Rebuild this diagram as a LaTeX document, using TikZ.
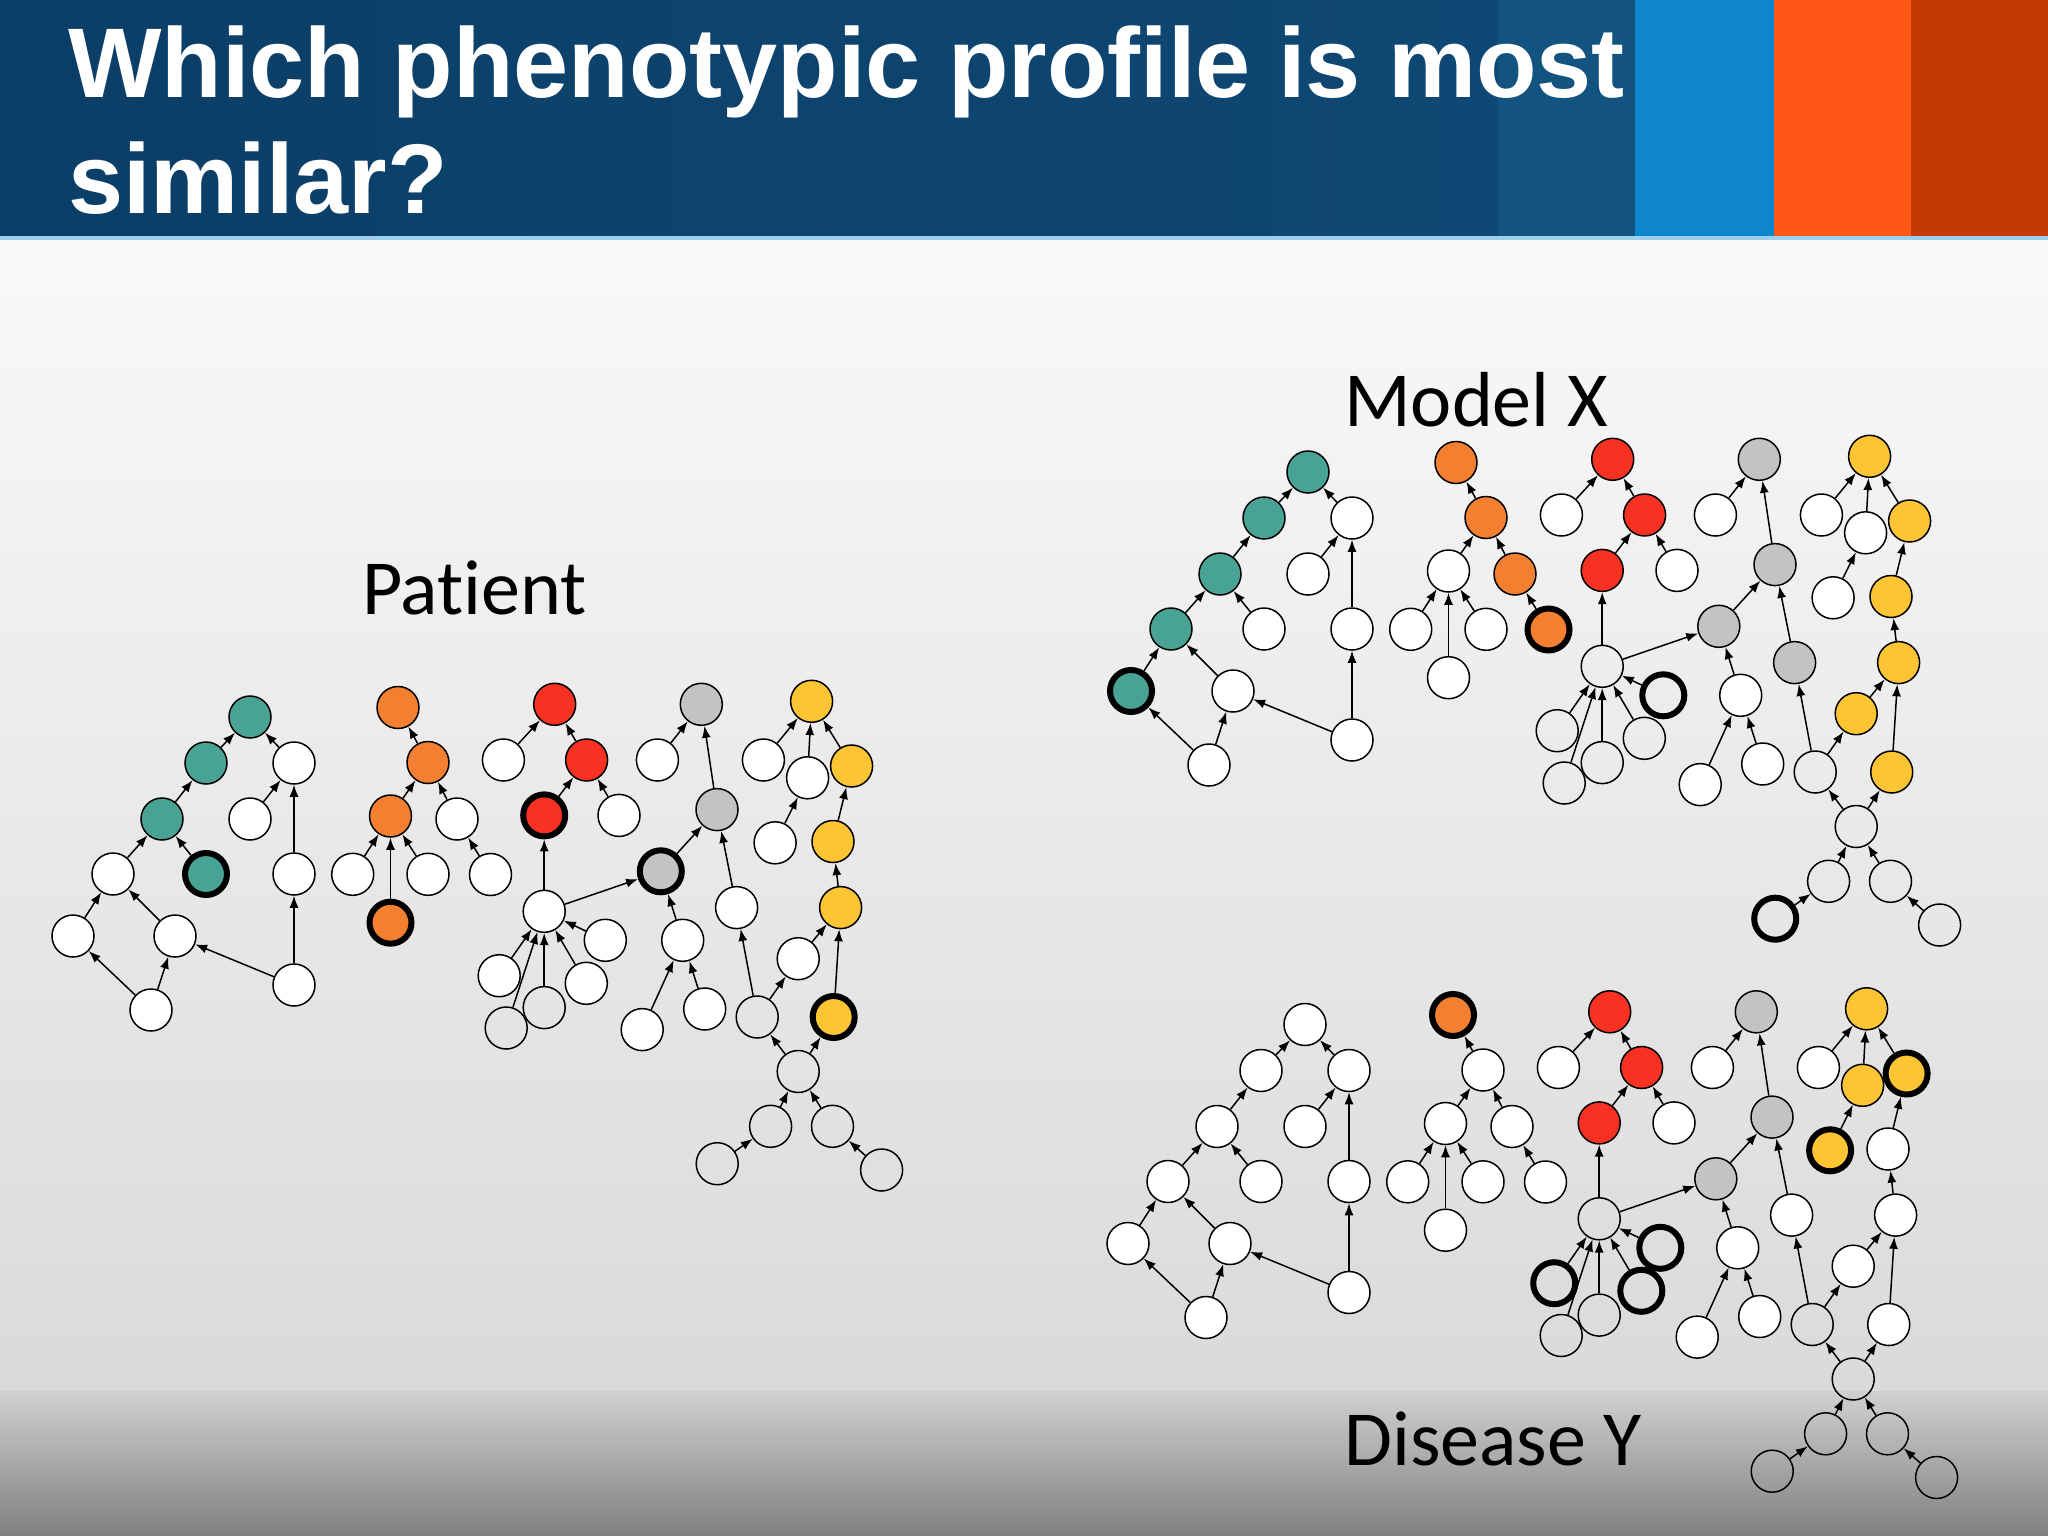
\documentclass[tikz,border=0pt]{standalone}
\usepackage{fontspec}
\setmainfont{Liberation Sans}
\newfontfamily\titlefont{Liberation Sans}
\newfontfamily\labfont{Carlito}[Ligatures=NoCommon]
\usetikzlibrary{arrows.meta}
\definecolor{cTeal}{HTML}{49A394}
\definecolor{cOra}{HTML}{F28030}
\definecolor{cRed}{HTML}{F83222}
\definecolor{cGra}{HTML}{C3C3C5}
\definecolor{cYel}{HTML}{FDC434}
\definecolor{cNavyL}{HTML}{0B3E66}
\definecolor{cNavyR}{HTML}{0F4874}
\definecolor{cS1}{HTML}{12537F}
\definecolor{cS2}{HTML}{0E86CD}
\definecolor{cS3}{HTML}{FF5715}
\definecolor{cS4}{HTML}{C33B02}
\definecolor{cLine}{HTML}{9CCFEE}
\definecolor{cBg1}{HTML}{F9F9F9}
\definecolor{cBg2}{HTML}{DADADA}
\definecolor{cBg3}{HTML}{D0D0D0}
\definecolor{cBg4}{HTML}{808080}

\makeatletter
\newcommand\setsty[2]{\expandafter\def\csname sty@\gp @#1\endcsname{#2}}
\tikzset{s/.code={\@ifundefined{sty@\gp @#1}{\pgfkeysalso{wn}}{\edef\tmp@s{\noexpand\pgfkeysalso{\csname sty@\gp @#1\endcsname}}\tmp@s}}}
\makeatother

\tikzset{
  base/.style={circle, minimum size=42pt, inner sep=0pt, draw=black, line width=1.5pt},
  wn/.style={fill=white},
  tn/.style={},
  boldline/.style={line width=6pt},
  rbold/.style={boldline},
  ntea/.style={fill=cTeal},
  nteab/.style={fill=cTeal, boldline},
  nora/.style={fill=cOra},
  norab/.style={fill=cOra, boldline},
  nred/.style={fill=cRed},
  nredb/.style={fill=cRed, boldline},
  ngra/.style={fill=cGra},
  ngrab/.style={fill=cGra, boldline},
  nyel/.style={fill=cYel},
  nyelb/.style={fill=cYel, boldline},
  edge/.style={-{Latex[length=12pt,width=9pt]}, line width=1.5pt},
  lab/.style={font=\labfont\fontsize{78}{90}\selectfont, inner sep=0pt, text=black},
  titlest/.style={font=\titlefont\bfseries\fontsize{99}{115}\selectfont, inner sep=0pt, text=white}
}

\newcommand\nd[3]{\node[base,s=#1] (\gp#1) at (#2,#3) {};}
\newcommand\ed[2]{\draw[edge] (\gp#1) -- (\gp#2);}

\newcommand\drawgraph{%
  % teal group
  \nd{a0}{250}{717}
  \nd{a1}{206}{763}
  \nd{a2}{294}{763}
  \nd{a3}{162}{819}
  \nd{a4}{250}{819}
  \nd{a5}{113}{874}
  \nd{a6}{206}{874}
  \nd{a7}{294}{874}
  \nd{a8}{73}{936}
  \nd{a9}{175}{936}
  \nd{a10}{151}{1010}
  \nd{a11}{294}{985}
  % orange group
  \nd{b0}{398}{707.5}
  \nd{b1}{428}{762.5}
  \nd{b2}{390.5}{816}
  \nd{b3}{457}{819}
  \nd{b4}{352.7}{874.3}
  \nd{b5}{428}{874.3}
  \nd{b6}{490.5}{874.5}
  \nd{b7}{390.5}{922.7}
  % red group
  \nd{c0}{554.7}{704.3}
  \nd{c1}{503.4}{760}
  \nd{c2}{586.6}{760}
  \nd{c3}{544.2}{815.4}
  \nd{c4}{619}{815.4}
  % hub
  \nd{h}{544.2}{911.3}
  \nd{h1}{499.2}{975.7}
  \nd{h2}{506.2}{1028}
  \nd{h3}{544.2}{1007.6}
  \nd{h4}{586.3}{983.3}
  \nd{h5}{605.3}{940.3}
  % gray group
  \nd{g0}{701.3}{704.3}
  \nd{g1}{657.4}{760}
  \nd{g2}{717}{809.6}
  \nd{g3}{660.8}{871.3}
  \nd{g4}{736.6}{907.6}
  \nd{g5}{682.7}{940.3}
  \nd{g6}{642.2}{1029.6}
  \nd{g7}{704.7}{1009}
  % yellow group
  \nd{y0}{811.6}{701.3}
  \nd{y1}{763.4}{760}
  \nd{y2}{807.6}{777.8}
  \nd{y3}{851.6}{766}
  \nd{y4}{775.1}{842.8}
  \nd{y5}{833}{841.5}
  \nd{y6}{840.6}{907.6}
  \nd{y7}{798.2}{958.7}
  \nd{y8}{833.7}{1017}
  \nd{j}{757.2}{1017}
  \nd{x}{798.2}{1071.5}
  \nd{xa}{770.6}{1126.3}
  \nd{xb}{832.5}{1126.3}
  \nd{xc}{717.2}{1163.7}
  \nd{xd}{881.6}{1170}
  % edges
  \ed{a1}{a0}\ed{a2}{a0}\ed{a3}{a1}\ed{a4}{a2}\ed{a7}{a2}
  \ed{a5}{a3}\ed{a6}{a3}\ed{a8}{a5}\ed{a9}{a5}
  \ed{a10}{a8}\ed{a10}{a9}\ed{a11}{a9}\ed{a11}{a7}
  \ed{b1}{b0}\ed{b2}{b1}\ed{b3}{b1}\ed{b4}{b2}\ed{b7}{b2}\ed{b5}{b2}\ed{b6}{b3}
  \ed{c1}{c0}\ed{c2}{c0}\ed{c3}{c2}\ed{c4}{c2}
  \ed{h1}{h}\ed{h2}{h}\ed{h3}{h}\ed{h4}{h}\ed{h5}{h}\ed{h}{c3}\ed{h}{g3}
  \ed{g1}{g0}\ed{g2}{g0}\ed{g3}{g2}\ed{g4}{g2}\ed{g5}{g3}\ed{g6}{g5}\ed{g7}{g5}
  \ed{y1}{y0}\ed{y2}{y0}\ed{y3}{y0}\ed{y4}{y2}\ed{y5}{y3}\ed{y6}{y5}
  \ed{y7}{y6}\ed{y8}{y6}\ed{j}{y7}\ed{j}{g4}\ed{x}{j}\ed{x}{y8}
  \ed{xa}{x}\ed{xb}{x}\ed{xc}{xa}\ed{xd}{xb}
}

\begin{document}
\begin{tikzpicture}[x=1pt,y=-1pt]
\useasboundingbox (0,0) rectangle (2048,1536);
% background
\shade[top color=cBg1, bottom color=cBg2] (0,239) rectangle (2048,1392);
\shade[top color=cBg3, bottom color=cBg4] (0,1391) rectangle (2048,1536);
% header
\shade[left color=cNavyL, right color=cNavyR] (0,0) rectangle (1498,239);
\fill[cS1] (1498,0) rectangle (1635,239);
\fill[cS2] (1635,0) rectangle (1774,239);
\fill[cS3] (1774,0) rectangle (1911,239);
\fill[cS4] (1911,0) rectangle (2048,239);
\fill[cLine] (0,236) rectangle (2048,240);
\node[titlest, anchor=base west] (title1) at (68,98) {Which phenotypic profile is most};
\node[titlest, anchor=base west] (title2) at (68,213) {similar?};
% labels
\node[lab, anchor=base west] (labP) at (362,614) {Patient};
\node[lab, anchor=base west] (labM) at (1344,426) {Model X};
\node[lab, anchor=base west] (labD) at (1344,1465) {Disease Y};

% Patient
\def\gp{P}
\setsty{a0}{ntea}\setsty{a1}{ntea}\setsty{a3}{ntea}\setsty{a6}{nteab}
\setsty{b0}{nora}\setsty{b1}{nora}\setsty{b2}{nora}\setsty{b7}{norab}
\setsty{c0}{nred}\setsty{c2}{nred}\setsty{c3}{nredb}
\setsty{g0}{ngra}\setsty{g2}{ngra}\setsty{g3}{ngrab}
\setsty{y0}{nyel}\setsty{y3}{nyel}\setsty{y5}{nyel}\setsty{y6}{nyel}\setsty{y8}{nyelb}
\setsty{h2}{tn}\setsty{h3}{tn}\setsty{j}{tn}\setsty{x}{tn}
\setsty{xa}{tn}\setsty{xb}{tn}\setsty{xc}{tn}\setsty{xd}{tn}
\drawgraph

% Model X
\begin{scope}[shift={(1058,-245)}]
\def\gp{M}
\setsty{a0}{ntea}\setsty{a1}{ntea}\setsty{a3}{ntea}\setsty{a5}{ntea}\setsty{a8}{nteab}
\setsty{b0}{nora}\setsty{b1}{nora}\setsty{b3}{nora}\setsty{b6}{norab}
\setsty{c0}{nred}\setsty{c2}{nred}\setsty{c3}{nred}
\setsty{g0}{ngra}\setsty{g2}{ngra}\setsty{g3}{ngra}\setsty{g4}{ngra}
\setsty{y0}{nyel}\setsty{y3}{nyel}\setsty{y5}{nyel}\setsty{y6}{nyel}\setsty{y7}{nyel}\setsty{y8}{nyel}
\setsty{h}{tn}\setsty{h1}{tn}\setsty{h2}{tn}\setsty{h3}{tn}\setsty{h4}{tn}\setsty{h5}{rbold}
\setsty{j}{tn}\setsty{x}{tn}\setsty{xa}{tn}\setsty{xb}{tn}\setsty{xc}{rbold}\setsty{xd}{tn}
\drawgraph
\end{scope}

% Disease Y
\begin{scope}[shift={(1055,307.5)}]
\def\gp{D}
\setsty{b0}{norab}
\setsty{c0}{nred}\setsty{c2}{nred}\setsty{c3}{nred}
\setsty{g0}{ngra}\setsty{g2}{ngra}\setsty{g3}{ngra}
\setsty{y0}{nyel}\setsty{y2}{nyel}\setsty{y3}{nyelb}\setsty{y4}{nyelb}
\setsty{h}{tn}\setsty{h1}{rbold}\setsty{h2}{tn}\setsty{h3}{tn}\setsty{h4}{rbold}\setsty{h5}{rbold}
\setsty{j}{tn}\setsty{x}{tn}\setsty{xa}{tn}\setsty{xb}{tn}\setsty{xc}{tn}\setsty{xd}{tn}
\drawgraph
\end{scope}
\end{tikzpicture}
\end{document}
